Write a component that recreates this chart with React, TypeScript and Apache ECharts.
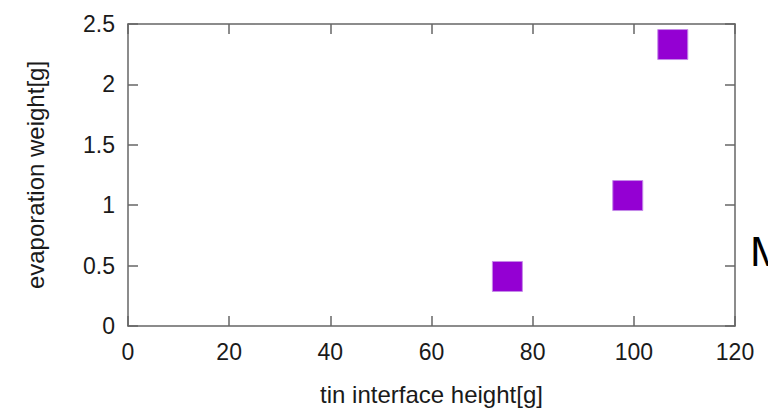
import React, { useEffect, useRef } from "react";
import * as echarts from "echarts";

const xValues = [75, 98.8, 107.7];
const yValues = [0.41, 1.08, 2.33];
const xTitle = "tin interface height[g]";
const yTitle = "evaporation weight[g]";

const FONT = "Liberation Sans";
const AXIS_COLOR = "#666666";
const TEXT_COLOR = "#1a1a1a";

export default function App() {
  const ref = useRef<HTMLDivElement>(null);
  useEffect(() => {
    if (!ref.current) return;
    const chart = echarts.init(ref.current, null, { renderer: "svg" });
    const axisLine = { show: true, onZero: false, lineStyle: { color: AXIS_COLOR, width: 1.5 } };
    const axisTick = { show: true, inside: true, length: 10, lineStyle: { color: AXIS_COLOR, width: 1.5 } };
    chart.setOption({
      animation: false,
      backgroundColor: "#ffffff",
      grid: { left: 128, top: 24, right: 33, bottom: 84, containLabel: false },
      xAxis: [
        {
          type: "value",
          min: 0,
          max: 120,
          interval: 20,
          position: "bottom",
          axisLine,
          axisTick,
          splitLine: { show: false },
          axisLabel: { color: TEXT_COLOR, fontSize: 23, fontFamily: FONT, margin: 14 },
          name: xTitle,
          nameLocation: "middle",
          nameGap: 56,
          nameTextStyle: { color: TEXT_COLOR, fontSize: 24, fontFamily: FONT },
        },
        {
          type: "value",
          min: 0,
          max: 120,
          interval: 20,
          position: "top",
          axisLine,
          axisTick,
          splitLine: { show: false },
          axisLabel: { show: false },
        },
      ],
      yAxis: [
        {
          type: "value",
          min: 0,
          max: 2.5,
          interval: 0.5,
          position: "left",
          axisLine,
          axisTick,
          splitLine: { show: false },
          axisLabel: { color: TEXT_COLOR, fontSize: 23, fontFamily: FONT, margin: 13 },
          name: yTitle,
          nameLocation: "middle",
          nameGap: 81,
          nameRotate: 90,
          nameTextStyle: { color: TEXT_COLOR, fontSize: 24, fontFamily: FONT },
        },
        {
          type: "value",
          min: 0,
          max: 2.5,
          interval: 0.5,
          position: "right",
          axisLine,
          axisTick,
          splitLine: { show: false },
          axisLabel: { show: false },
        },
      ],
      series: [
        {
          type: "scatter",
          xAxisIndex: 0,
          yAxisIndex: 0,
          symbol: "rect",
          symbolSize: 30,
          data: xValues.map((x, i) => [x, yValues[i]]),
          itemStyle: { color: "#9400D3", borderColor: "#c58ae8", borderWidth: 1, opacity: 1 },
        },
      ],
      graphic: [
        {
          type: "text",
          left: 750,
          top: 229,
          style: { text: "M", fill: "#000000", fontSize: 43, fontFamily: FONT },
        },
      ],
    });
    return () => chart.dispose();
  }, []);
  return <div ref={ref} style={{ width: 768, height: 411, position: "absolute", left: 0, top: 0 }} />;
}
